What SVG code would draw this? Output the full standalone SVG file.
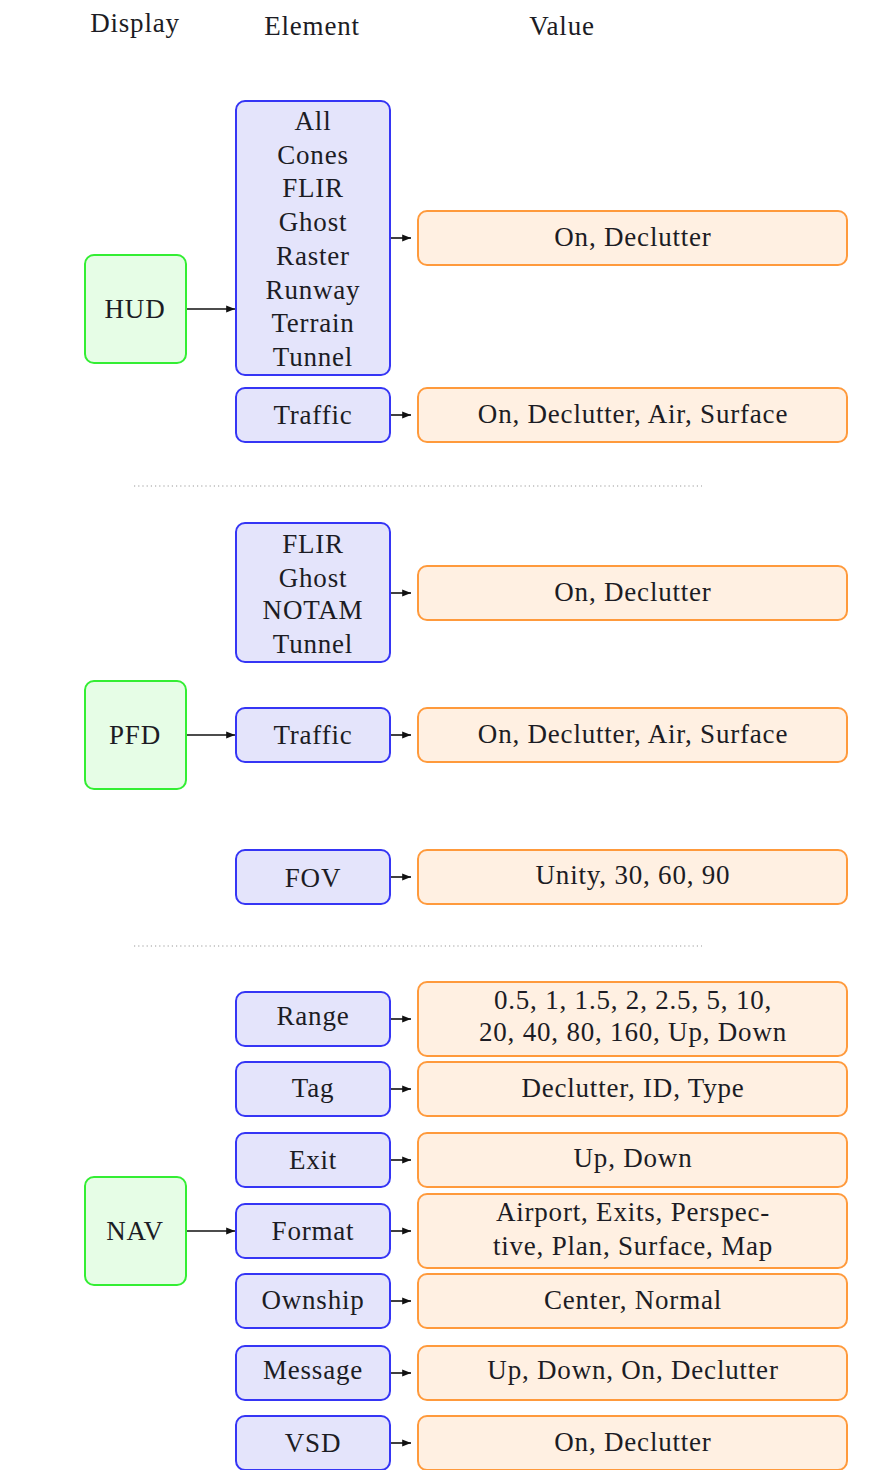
<svg xmlns="http://www.w3.org/2000/svg" width="886" height="1470" viewBox="0 0 886 1470" font-family="'Liberation Serif', 'Times New Roman', Times, serif">
  <style>
    text { font-size: 27px; fill: #1c1c24; text-anchor: middle; letter-spacing: 0.8px; }
    .disp { fill: #e6fde6; stroke: #33ee33; stroke-width: 2; }
    .elem { fill: #e4e4fb; stroke: #3535f5; stroke-width: 2; }
    .val { fill: #fff0e2; stroke: #ff9a3c; stroke-width: 2; }
    .link { stroke: #111; stroke-width: 1.6; fill: none; marker-end: url(#tip); }
    .sep { stroke: #9a9a9a; stroke-width: 1.2; stroke-dasharray: 1.2 3; }
  </style>
  <defs>
    <marker id="tip" viewBox="0 0 10 8" refX="10" refY="4" markerWidth="5.5" markerHeight="4.4" markerUnits="strokeWidth" orient="auto">
      <path d="M0,0 L10,4 L0,8 Z" fill="#111"/>
    </marker>
  </defs>
  <rect width="886" height="1470" fill="#ffffff"/>

  <!-- column headers -->
  <g id="headers">
    <text x="135" y="32">Display</text>
    <text x="312" y="35">Element</text>
    <text x="562" y="35">Value</text>
  </g>

  <!-- section separators -->
  <line class="sep" x1="134" y1="486" x2="702" y2="486"/>
  <line class="sep" x1="134" y1="946" x2="702" y2="946"/>

  <!-- display nodes -->
  <g id="hud"><rect class="disp" x="85" y="255" width="101" height="108" rx="9"/><text x="135" y="318">HUD</text></g>
  <g id="pfd"><rect class="disp" x="85" y="681" width="101" height="108" rx="9"/><text x="135" y="744">PFD</text></g>
  <g id="nav"><rect class="disp" x="85" y="1177" width="101" height="108" rx="9"/><text x="135" y="1240">NAV</text></g>

  <!-- HUD elements -->
  <g id="hud-layers">
    <rect class="elem" x="236" y="101" width="154" height="274" rx="9"/>
    <text x="313" y="130">All</text>
    <text x="313" y="164">Cones</text>
    <text x="313" y="197">FLIR</text>
    <text x="313" y="231">Ghost</text>
    <text x="313" y="265">Raster</text>
    <text x="313" y="299">Runway</text>
    <text x="313" y="332">Terrain</text>
    <text x="313" y="366">Tunnel</text>
  </g>
  <g id="hud-traffic"><rect class="elem" x="236" y="388" width="154" height="54" rx="9"/><text x="313" y="424">Traffic</text></g>

  <!-- PFD elements -->
  <g id="pfd-layers">
    <rect class="elem" x="236" y="523" width="154" height="139" rx="9"/>
    <text x="313" y="553">FLIR</text>
    <text x="313" y="587">Ghost</text>
    <text x="313" y="619">NOTAM</text>
    <text x="313" y="653">Tunnel</text>
  </g>
  <g id="pfd-traffic"><rect class="elem" x="236" y="708" width="154" height="54" rx="9"/><text x="313" y="744">Traffic</text></g>
  <g id="pfd-fov"><rect class="elem" x="236" y="850" width="154" height="54" rx="9"/><text x="313" y="887">FOV</text></g>

  <!-- NAV elements -->
  <g id="nav-range"><rect class="elem" x="236" y="992" width="154" height="54" rx="9"/><text x="313" y="1025">Range</text></g>
  <g id="nav-tag"><rect class="elem" x="236" y="1062" width="154" height="54" rx="9"/><text x="313" y="1097">Tag</text></g>
  <g id="nav-exit"><rect class="elem" x="236" y="1133" width="154" height="54" rx="9"/><text x="313" y="1169">Exit</text></g>
  <g id="nav-format"><rect class="elem" x="236" y="1204" width="154" height="54" rx="9"/><text x="313" y="1240">Format</text></g>
  <g id="nav-ownship"><rect class="elem" x="236" y="1274" width="154" height="54" rx="9"/><text x="313" y="1309">Ownship</text></g>
  <g id="nav-message"><rect class="elem" x="236" y="1346" width="154" height="54" rx="9"/><text x="313" y="1379">Message</text></g>
  <g id="nav-vsd"><rect class="elem" x="236" y="1416" width="154" height="54" rx="9"/><text x="313" y="1452">VSD</text></g>

  <!-- value nodes -->
  <g id="v-hud-layers"><rect class="val" x="418" y="211" width="429" height="54" rx="9"/><text x="633" y="246">On, Declutter</text></g>
  <g id="v-hud-traffic"><rect class="val" x="418" y="388" width="429" height="54" rx="9"/><text x="633" y="423">On, Declutter, Air, Surface</text></g>
  <g id="v-pfd-layers"><rect class="val" x="418" y="566" width="429" height="54" rx="9"/><text x="633" y="601">On, Declutter</text></g>
  <g id="v-pfd-traffic"><rect class="val" x="418" y="708" width="429" height="54" rx="9"/><text x="633" y="743">On, Declutter, Air, Surface</text></g>
  <g id="v-pfd-fov"><rect class="val" x="418" y="850" width="429" height="54" rx="9"/><text x="633" y="884">Unity, 30, 60, 90</text></g>
  <g id="v-nav-range"><rect class="val" x="418" y="982" width="429" height="74" rx="9"/><text x="633" y="1009">0.5, 1, 1.5, 2, 2.5, 5, 10,</text><text x="633" y="1041">20, 40, 80, 160, Up, Down</text></g>
  <g id="v-nav-tag"><rect class="val" x="418" y="1062" width="429" height="54" rx="9"/><text x="633" y="1097">Declutter, ID, Type</text></g>
  <g id="v-nav-exit"><rect class="val" x="418" y="1133" width="429" height="54" rx="9"/><text x="633" y="1167">Up, Down</text></g>
  <g id="v-nav-format"><rect class="val" x="418" y="1194" width="429" height="74" rx="9"/><text x="633" y="1221">Airport, Exits, Perspec-</text><text x="633" y="1255">tive, Plan, Surface, Map</text></g>
  <g id="v-nav-ownship"><rect class="val" x="418" y="1274" width="429" height="54" rx="9"/><text x="633" y="1309">Center, Normal</text></g>
  <g id="v-nav-message"><rect class="val" x="418" y="1346" width="429" height="54" rx="9"/><text x="633" y="1379">Up, Down, On, Declutter</text></g>
  <g id="v-nav-vsd"><rect class="val" x="418" y="1416" width="429" height="54" rx="9"/><text x="633" y="1451">On, Declutter</text></g>

  <!-- connectors -->
  <g id="connectors">
    <line class="link" x1="187" y1="309" x2="235" y2="309"/>
    <line class="link" x1="187" y1="735" x2="235" y2="735"/>
    <line class="link" x1="187" y1="1231" x2="235" y2="1231"/>
    <line class="link" x1="391" y1="238" x2="411" y2="238"/>
    <line class="link" x1="391" y1="415" x2="411" y2="415"/>
    <line class="link" x1="391" y1="593" x2="411" y2="593"/>
    <line class="link" x1="391" y1="735" x2="411" y2="735"/>
    <line class="link" x1="391" y1="877" x2="411" y2="877"/>
    <line class="link" x1="391" y1="1019" x2="411" y2="1019"/>
    <line class="link" x1="391" y1="1089" x2="411" y2="1089"/>
    <line class="link" x1="391" y1="1160" x2="411" y2="1160"/>
    <line class="link" x1="391" y1="1231" x2="411" y2="1231"/>
    <line class="link" x1="391" y1="1301" x2="411" y2="1301"/>
    <line class="link" x1="391" y1="1373" x2="411" y2="1373"/>
    <line class="link" x1="391" y1="1443" x2="411" y2="1443"/>
  </g>
</svg>
